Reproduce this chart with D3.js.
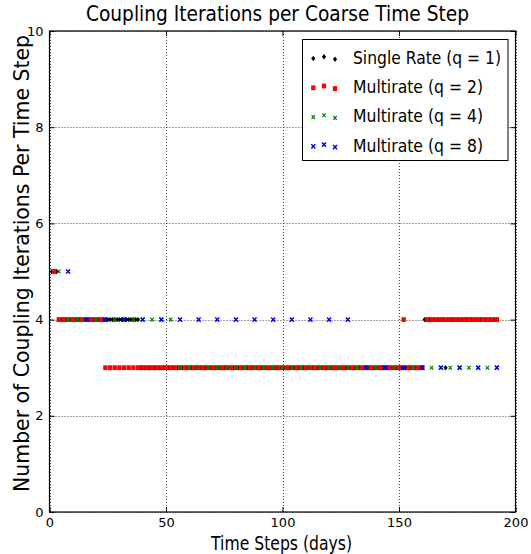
<!DOCTYPE html>
<html>
<head>
<meta charset="utf-8">
<script src="https://cdn.jsdelivr.net/npm/d3@7/dist/d3.min.js"></script>
<style>
  html, body { margin: 0; padding: 0; background: #fff; }
  svg { display: block; font-family: "DejaVu Sans", sans-serif; }
</style>
</head>
<body>
<svg id="chart" width="531" height="554"></svg>
<script>
// Coupling iterations needed at each coarse time step, one list per coupling rate.
// Entry i belongs to time step (i + 1) * stepDays of that series.
const xTicks = [0, 50, 100, 150, 200];
const yTicks = [0, 2, 4, 6, 8, 10];

// q = 1: time steps 1..192
const singleRate = [
  5, 5, 5, 4, 4, 4, 4, 4, 4, 4,
  4, 4, 4, 4, 4, 4, 4, 4, 4, 4,
  4, 4, 4, 4, 4, 4, 4, 4, 4, 4,
  4, 4, 4, 4, 4, 4, 4, 4, 3, 3,
  3, 3, 3, 3, 3, 3, 3, 3, 3, 3,
  3, 3, 3, 3, 3, 3, 3, 3, 3, 3,
  3, 3, 3, 3, 3, 3, 3, 3, 3, 3,
  3, 3, 3, 3, 3, 3, 3, 3, 3, 3,
  3, 3, 3, 3, 3, 3, 3, 3, 3, 3,
  3, 3, 3, 3, 3, 3, 3, 3, 3, 3,
  3, 3, 3, 3, 3, 3, 3, 3, 3, 3,
  3, 3, 3, 3, 3, 3, 3, 3, 3, 3,
  3, 3, 3, 3, 3, 3, 3, 3, 3, 3,
  3, 3, 3, 3, 3, 3, 3, 3, 3, 3,
  3, 3, 3, 3, 3, 3, 3, 3, 3, 3,
  3, 3, 3, 3, 3, 3, 3, 3, 3, 3,
  4, 4, 4, 4, 4, 4, 4, 4, 4, 3,
  4, 4, 4, 4, 4, 4, 4, 4, 4, 4,
  4, 4, 4, 4, 4, 4, 4, 4, 4, 4,
  4, 4
];

// q = 2: time steps 2, 4, ..., 192
const multirate2 = [
  5, 4, 4, 4, 4, 4, 4, 4, 4, 4,
  4, 3, 3, 3, 3, 3, 3, 3, 3, 3,
  3, 3, 3, 3, 3, 3, 3, 3, 3, 3,
  3, 3, 3, 3, 3, 3, 3, 3, 3, 3,
  3, 3, 3, 3, 3, 3, 3, 3, 3, 3,
  3, 3, 3, 3, 3, 3, 3, 3, 3, 3,
  3, 3, 3, 3, 3, 3, 3, 3, 3, 3,
  3, 3, 3, 3, 3, 4, 3, 3, 3, 3,
  4, 4, 4, 4, 4, 4, 4, 4, 4, 4,
  4, 4, 4, 4, 4, 4
];

// q = 4: time steps 4, 8, ..., 192
const multirate4 = [
  5, 4, 4, 4, 4, 4, 4, 4, 4, 4,
  4, 4, 4, 3, 3, 3, 3, 3, 3, 3,
  3, 3, 3, 3, 3, 3, 3, 3, 3, 3,
  3, 3, 3, 3, 3, 3, 3, 3, 3, 3,
  3, 3, 3, 3, 3, 3, 3, 3
];

// q = 8: time steps 8, 16, ..., 192
const multirate8 = [
  5, 4, 4, 4, 4, 4, 4, 4, 4, 4,
  4, 4, 4, 4, 4, 4, 3, 3, 3, 3,
  3, 3, 3, 3
];

const seriesNames = ["Single Rate (q = 1)", "Multirate (q = 2)", "Multirate (q = 4)", "Multirate (q = 8)"];
const seriesSteps = [1, 2, 4, 8];
const seriesValues = [singleRate, multirate2, multirate4, multirate8];
const seriesColors = ["#000000", "#ff0000", "#008000", "#0000ff"];
const seriesMarkers = ["diamond", "square", "xsmall", "x"];

const svg = d3.select("#chart");
const W = 531, H = 554;
const plot = { left: 49.5, right: 515.5, top: 31, bottom: 512 };

const x = d3.scaleLinear().domain([0, 200]).range([plot.left, plot.right]);
const y = d3.scaleLinear().domain([0, 10]).range([plot.bottom, plot.top]);

svg.append("rect").attr("width", W).attr("height", H).attr("fill", "#fff");

// dotted grid
const grid = svg.append("g").attr("stroke", "#000").attr("stroke-opacity", 0.7)
  .attr("stroke-width", 1).attr("stroke-dasharray", "1,2");
grid.selectAll("line.gx").data(xTicks).join("line")
  .attr("x1", d => Math.round(x(d)) + 0.5).attr("x2", d => Math.round(x(d)) + 0.5)
  .attr("y1", plot.top).attr("y2", plot.bottom);
grid.selectAll("line.gy").data(yTicks).join("line")
  .attr("y1", d => Math.round(y(d)) + 0.5).attr("y2", d => Math.round(y(d)) + 0.5)
  .attr("x1", plot.left).attr("x2", plot.right);

// markers
function markerPath(kind) {
  if (kind === "diamond") return "M0,-2.7L2.1,0L0,2.7L-2.1,0Z";
  if (kind === "square") return "M-2.15,-2.4H2.15V2.4H-2.15Z";
  if (kind === "xsmall") return "M-1.7,-1.9L1.7,1.9M-1.7,1.9L1.7,-1.9";
  return "M-2,-2.1L2,2.1M-2,2.1L2,-2.1";
}
function drawMarker(g, kind, color) {
  const p = g.append("path").attr("d", markerPath(kind));
  if (kind === "diamond" || kind === "square") p.attr("fill", color);
  else p.attr("fill", "none").attr("stroke", color).attr("stroke-width", kind === "x" ? 1.5 : 1.2);
}

const marks = svg.append("g");
seriesValues.forEach((vals, si) => {
  const g = marks.append("g");
  g.selectAll("g").data(vals).join("g")
    .attr("transform", (d, i) => `translate(${x((i + 1) * seriesSteps[si])},${y(d)})`)
    .each(function () { drawMarker(d3.select(this), seriesMarkers[si], seriesColors[si]); });
});

// axes: inward ticks on all four sides
const tickFont = g => g.attr("font-family", "DejaVu Sans, sans-serif").attr("font-size", 13);
const axB = svg.append("g").attr("transform", `translate(0,${plot.bottom})`)
  .call(d3.axisBottom(x).tickValues(xTicks).tickSizeInner(-5).tickSizeOuter(0).tickPadding(6));
const axT = svg.append("g").attr("transform", `translate(0,${plot.top})`)
  .call(d3.axisTop(x).tickValues(xTicks).tickSizeInner(-5).tickSizeOuter(0).tickFormat(""));
const axL = svg.append("g").attr("transform", `translate(${plot.left},0)`)
  .call(d3.axisLeft(y).tickValues(yTicks).tickSizeInner(-5).tickSizeOuter(0).tickPadding(6));
const axR = svg.append("g").attr("transform", `translate(${plot.right},0)`)
  .call(d3.axisRight(y).tickValues(yTicks).tickSizeInner(-5).tickSizeOuter(0).tickFormat(""));
[axB, axT, axL, axR].forEach(a => {
  a.call(tickFont);
  a.select(".domain").remove();
  a.selectAll(".tick line").attr("stroke", "#000").attr("stroke-width", 1);
  a.selectAll(".tick text").attr("fill", "#000");
});

// frame
svg.append("rect")
  .attr("x", plot.left).attr("y", plot.top)
  .attr("width", plot.right - plot.left).attr("height", plot.bottom - plot.top)
  .attr("fill", "none").attr("stroke", "#000").attr("stroke-width", 1.2);

// title and axis labels
svg.append("text").attr("x", 277.5).attr("y", 20.5).attr("text-anchor", "middle")
  .attr("font-size", 21).attr("textLength", 383).attr("lengthAdjust", "spacingAndGlyphs")
  .text("Coupling Iterations per Coarse Time Step");
svg.append("text").attr("x", 281.5).attr("y", 549.5).attr("text-anchor", "middle")
  .attr("font-size", 19.5).attr("textLength", 141).attr("lengthAdjust", "spacingAndGlyphs")
  .text("Time Steps (days)");
svg.append("text").attr("transform", "translate(28.5,263.5) rotate(-90)").attr("text-anchor", "middle")
  .attr("font-size", 21).attr("textLength", 457).attr("lengthAdjust", "spacingAndGlyphs")
  .text("Number of Coupling Iterations Per Time Step");

// legend
const legend = svg.append("g");
legend.append("rect").attr("x", 302.5).attr("y", 39.5).attr("width", 205.5).attr("height", 121)
  .attr("fill", "#fff").attr("stroke", "#000").attr("stroke-width", 1);
const rowCenters = [57, 86.3, 115.6, 144.9];
const legendMarkerX = [313.3, 324, 335];
const legendMarkerDy = [1.5, -0.3, 2.3];
const legendWidths = [148, 130, 130, 130];
seriesNames.forEach((name, si) => {
  const cy = rowCenters[si];
  legendMarkerX.forEach((mx, k) => {
    const g = legend.append("g").attr("transform", `translate(${mx},${cy + legendMarkerDy[k]})`);
    drawMarker(g, seriesMarkers[si], seriesColors[si]);
  });
  legend.append("text").attr("x", 353).attr("y", cy + 6.8)
    .attr("font-size", 18.5).attr("textLength", legendWidths[si]).attr("lengthAdjust", "spacingAndGlyphs")
    .text(name);
});
</script>
</body>
</html>
